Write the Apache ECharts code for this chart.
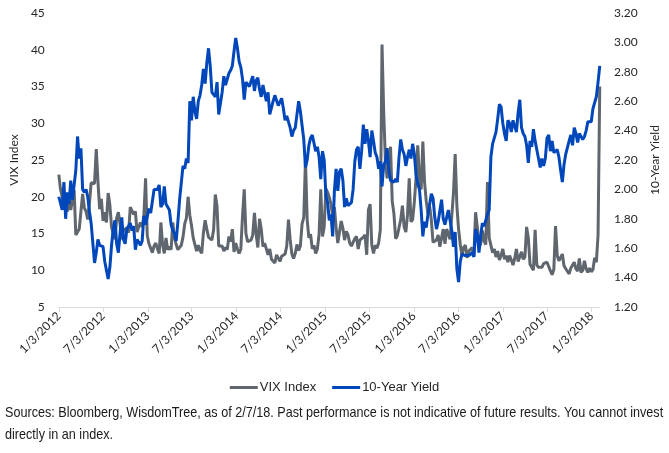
<!DOCTYPE html>
<html>
<head>
<meta charset="utf-8">
<script src="https://cdn.jsdelivr.net/npm/echarts@6/dist/echarts.min.js"></script>
<style>
  html, body { margin: 0; padding: 0; background: #ffffff; }
  #chart { width: 669px; height: 453px; }
</style>
</head>
<body>
<div id="chart"></div>
<script>
// ---- data (weekly readings, one value per week starting Tue 1/3/2012) ----
const startDate = '1/3/2012';
const endDate = '2/7/2018';
const tickLabels = ['1/3/2012','7/3/2012','1/3/2013','7/3/2013','1/3/2014','7/3/2014',
  '1/3/2015','7/3/2015','1/3/2016','7/3/2016','1/3/2017','7/3/2017','1/3/2018'];
const seriesNames = ['VIX Index', '10-Year Yield'];

const vix2012 = [23.0,21.0,20.0,18.5,19.4, 18.0,19.5,18.2,18.4, 20.9,14.8,15.0,15.6, 15.7,20.4,18.5,18.0,
  16.9,19.1,21.9,22.0,21.8, 26.5,22.1,18.3,19.7, 16.7,17.9,16.5,20.5,18.9, 15.9,14.9,14.2,17.1,
  17.9,16.3,14.2,15.4, 15.3,15.8,15.1,18.6,18.6, 17.6,18.0,15.2,15.9, 16.5,15.9,17.4,22.5];
const vix2013 = [14.7,13.6,13.6,12.4,13.3, 13.7,12.9,12.3,16.5, 13.5,12.3,14.4,12.8, 13.2,12.8,16.5,14.4,13.5,
  12.8,13.0,13.4,14.5, 16.3,17.1,20.0,17.5, 16.1,14.4,14.4,12.6,13.4, 12.7,12.3,15.1,16.8,
  15.6,14.5,14.5,14.1, 15.5,20.3,18.7,13.3,13.4, 13.3,12.6,13.1,12.8, 14.6,13.9,15.6,12.5,13.7];
const vix2014 = [12.9,12.3,12.9,17.4, 21.0,15.0,13.9,13.7, 14.1,14.8,17.8,14.9, 13.1,17.0,15.6,13.2,13.7,
  13.8,12.1,12.9,11.5, 11.6,11.0,12.1,12.1, 11.2,11.9,11.9,12.2,13.3, 16.9,14.2,12.2,11.6,
  12.3,13.5,12.7,13.3,16.3, 17.2,25.0,16.9,14.4, 14.9,12.9,13.4,12.3, 12.9,14.9,21.0,14.6,15.9];
const vix2015 = [21.1,20.6,19.9,19.0, 17.3,18.6,15.8,13.7, 13.9,16.7,15.7,14.1,15.3, 14.8,13.7,13.3,13.1,
  14.3,14.6,12.9,14.1, 13.9,14.5,14.8,12.1,18.2, 19.0,13.4,12.3,13.4, 13.0,13.7,15.5,40.7,
  31.4,24.9,22.5,22.4,26.8, 19.4,17.7,14.3,14.7, 14.5,16.9,18.8,15.9, 15.2,17.6,22.5,16.6,16.9];
const vix2016 = [19.3,22.5,27.0,22.5, 21.0,27.5,22.0,19.4, 17.7,18.7,16.8,13.8,13.8, 14.1,14.8,13.2,13.2,
  15.6,13.6,15.6,15.8,14.2, 14.1,20.5,25.8,18.8, 15.6,13.5,12.0,13.1, 13.4,11.7,12.6,12.4,13.1,
  11.9,17.9,15.9,13.1, 13.6,15.4,14.0,13.5, 22.0,14.4,14.5,12.4,12.9, 11.8,12.6,11.4,12.0];
const vix2017 = [12.9,11.5,12.0,11.1,12.0, 11.4,10.7,11.6,12.9, 11.2,11.4,12.5,11.5, 11.8,15.9,14.4,10.8,
  10.6,10.0,15.5,10.7,10.4, 10.5,10.4,10.9,11.1, 11.1,10.9,9.9,9.4, 10.1,16.0,12.0,11.3,11.7,
  12.2,10.6,10.2,10.2, 9.5,10.3,10.3,11.1,10.2, 9.9,11.6,9.7,10.0, 11.3,10.2,9.7,10.3];
const vix2018 = [9.8,10.1,11.7,11.1,14.8,35.0];

const yld2012 = [1.95,1.96,1.86,2.05,1.80, 1.98,1.90,2.06,1.93, 1.94,2.13,2.36,2.21, 2.28,2.00,1.98,2.00,
  1.95,1.85,1.77,1.78,1.50, 1.57,1.66,1.62,1.63, 1.61,1.51,1.51,1.39,1.47, 1.62,1.73,1.79,1.63,
  1.57,1.70,1.81,1.66, 1.63,1.73,1.74,1.77,1.72, 1.75,1.59,1.66,1.64, 1.62,1.65,1.82,1.76];
const yld2013 = [1.76,1.87,1.84,1.84,2.00, 2.01,2.00,2.03,1.88, 1.90,2.02,1.90,1.91, 1.86,1.76,1.72,1.70,1.65,
  1.78,1.93,1.93,2.16, 2.14,2.21,2.18,2.60, 2.47,2.63,2.53,2.48,2.60, 2.64,2.71,2.82,2.72,
  2.86,2.96,2.84,2.66, 2.65,2.63,2.73,2.51,2.51, 2.66,2.77,2.71,2.70, 2.79,2.81,2.84,2.94,3.03];
const yld2014 = [2.96,2.87,2.83,2.75, 2.61,2.73,2.72,2.70, 2.70,2.77,2.67,2.74, 2.76,2.68,2.63,2.71,2.70,
  2.60,2.66,2.51,2.52, 2.60,2.64,2.65,2.57, 2.58,2.62,2.55,2.47,2.50, 2.49,2.42,2.36,2.40,
  2.42,2.51,2.60,2.53,2.52, 2.34,2.15,2.20,2.30, 2.35,2.37,2.36,2.26, 2.29,2.22,2.07,2.26,2.20];
const yld2015 = [1.96,1.91,1.79,1.83, 1.68,1.99,2.14,1.99, 2.12,2.14,2.06,1.88,1.94, 1.89,1.90,1.91,2.00,
  2.19,2.27,2.29,2.14, 2.26,2.44,2.31,2.41,2.33, 2.22,2.40,2.33,2.25, 2.22,2.14,2.19,2.02,
  2.17,2.19,2.28,2.13,2.06, 2.06,2.05,2.07,2.05, 2.22,2.34,2.27,2.24, 2.16,2.22,2.27,2.21,2.31];
const yld2016 = [2.24,2.10,2.04,2.00, 1.86,1.68,1.78,1.74, 1.83,1.83,1.97,1.94,1.81, 1.73,1.78,1.78,1.93,
  1.80,1.76,1.76,1.86,1.85, 1.72,1.61,1.71,1.46, 1.37,1.51,1.56,1.56, 1.55,1.54,1.55,1.55,1.57,
  1.54,1.73,1.69,1.57, 1.69,1.77,1.75,1.76, 1.83,1.86,2.22,2.31,2.30, 2.39,2.48,2.58,2.56];
const yld2017 = [2.45,2.38,2.33,2.47,2.45, 2.39,2.47,2.43,2.39, 2.52,2.61,2.42,2.38, 2.36,2.30,2.18,2.33,
  2.29,2.41,2.33,2.27,2.21, 2.15,2.21,2.16,2.21, 2.35,2.37,2.26,2.33, 2.25,2.26,2.27,2.22,2.13,
  2.05,2.17,2.24,2.24, 2.33,2.37,2.30,2.42,2.38, 2.32,2.38,2.36,2.34, 2.36,2.40,2.46,2.47];
const yld2018 = [2.46,2.55,2.54,2.63,2.73,2.84];

const vixTicks = { min: 5, max: 45, interval: 5 };
const yldTicks = { min: 1.2, max: 3.2, interval: 0.2 };
const sourceText = 'Sources: Bloomberg, WisdomTree, as of 2/7/18. Past performance is not indicative of future results. You cannot invest\ndirectly in an index.';

// ---- build ----
function parseMDY(s) { const p = s.split('/').map(Number); return Date.UTC(p[2], p[0] - 1, p[1]); }
const DAY = 86400000;
const t0 = parseMDY(startDate);
const dayOf = s => Math.round((parseMDY(s) - t0) / DAY);
const tickDays = tickLabels.map(dayOf);
const labelByDay = {}; tickLabels.forEach((l, i) => { labelByDay[tickDays[i]] = l; });

const vix = [].concat(vix2012, vix2013, vix2014, vix2015, vix2016, vix2017, vix2018);
const yld = [].concat(yld2012, yld2013, yld2014, yld2015, yld2016, yld2017, yld2018);
const vixData = vix.map((v, i) => [i * 7, v]);
const yldData = yld.map((v, i) => [i * 7, v]);

const axisFont = { fontFamily: 'Lato, "Open Sans", sans-serif', fontSize: 12, color: '#262626' };
const sansFont = '"Liberation Sans", Arial, sans-serif';

const chart = echarts.init(document.getElementById('chart'), null, { renderer: 'canvas' });
chart.setOption({
  animation: false,
  backgroundColor: '#ffffff',
  grid: { left: 49.3, right: 61.3, top: 13, bottom: 146, containLabel: false },
  legend: {
    data: seriesNames,
    left: 'center', top: 376,
    icon: 'rect', itemWidth: 28, itemHeight: 3, itemGap: 16,
    textStyle: { fontFamily: sansFont, fontSize: 13, color: '#262626', padding: [0, 0, 0, -3] }
  },
  xAxis: {
    type: 'value', min: 0, max: dayOf(endDate),
    splitLine: { show: false },
    axisLine: { show: true, lineStyle: { color: '#d9d9d9', width: 1 } },
    axisTick: { show: true, customValues: tickDays, length: 5, lineStyle: { color: '#d9d9d9' } },
    axisLabel: Object.assign({ customValues: tickDays, rotate: 45, margin: 7,
      formatter: v => labelByDay[Math.round(v)] || '' }, axisFont)
  },
  yAxis: [
    {
      type: 'value', min: vixTicks.min, max: vixTicks.max, interval: vixTicks.interval,
      name: 'VIX Index', nameLocation: 'middle', nameGap: 36, nameRotate: 90,
      nameTextStyle: axisFont,
      axisLine: { show: false }, axisTick: { show: false }, splitLine: { show: false },
      axisLabel: Object.assign({ margin: 14 }, axisFont)
    },
    {
      type: 'value', min: yldTicks.min, max: yldTicks.max, interval: yldTicks.interval,
      name: '10-Year Yield', nameLocation: 'middle', nameGap: 49, nameRotate: 90,
      nameTextStyle: axisFont,
      axisLine: { show: false }, axisTick: { show: false }, splitLine: { show: false },
      axisLabel: Object.assign({ margin: 14, formatter: v => v.toFixed(2) }, axisFont)
    }
  ],
  series: [
    { name: seriesNames[0], type: 'line', yAxisIndex: 0, data: vixData, showSymbol: false,
      lineStyle: { color: '#5f666d', width: 3 }, itemStyle: { color: '#5f666d' } },
    { name: seriesNames[1], type: 'line', yAxisIndex: 1, data: yldData, showSymbol: false,
      lineStyle: { color: '#0047bb', width: 3 }, itemStyle: { color: '#0047bb' } }
  ],
  graphic: [{
    type: 'text', x: 5, y: 402, scaleX: 0.87,
    style: { text: sourceText, fontFamily: sansFont, fontSize: 14.5, lineHeight: 22, fill: '#1a1a1a' }
  }]
});
</script>
</body>
</html>
